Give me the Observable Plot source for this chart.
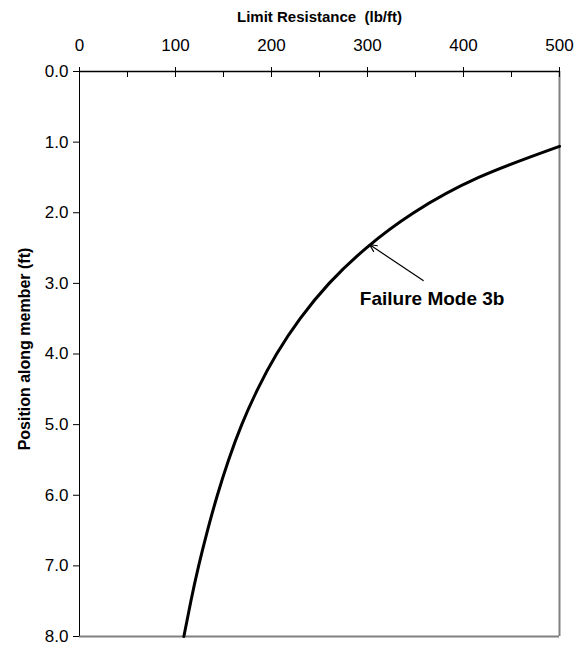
<!DOCTYPE html>
<html><head><meta charset="utf-8">
<script src="https://cdn.jsdelivr.net/npm/d3@7"></script>
<script src="https://cdn.jsdelivr.net/npm/@observablehq/plot@0.6"></script>
<style>
body{margin:0;background:#fff}
#chart svg{display:block;font-family:Arial,"Liberation Sans",sans-serif}
</style>
</head><body><div id="chart"></div>
<script>
// Curve: Limit resistance (lb/ft) vs position along member (ft)
const position   = [1.06, 1.5, 2.0, 2.5, 3.0, 3.5, 4.0, 4.5, 5.0, 5.5, 6.0, 6.5, 7.0, 7.5, 8.0];
const resistance = [500, 415.8, 348.1, 298.6, 260, 229.8, 205.3, 185.5, 169, 155.3, 143.6, 133.3, 124.1, 116, 108.7];

const xTicks = [0, 100, 200, 300, 400, 500];
const xMinorTicks = [50, 150, 250, 350, 450];
const yTicks = [0, 1, 2, 3, 4, 5, 6, 7, 8];

const xTitle = "Limit Resistance  (lb/ft)";
const yTitle = "Position along member (ft)";
const annotationText = "Failure Mode 3b";
const arrowFrom = {x: 358, y: 2.96};
const arrowTo = {x: 302, y: 2.45};
const labelAt = {x: 292, y: 3.22};

const curve = position.map((p, i) => ({position: p, resistance: resistance[i]}));

const chart = Plot.plot({
  width: 577,
  height: 645,
  marginLeft: 79,
  marginRight: 18,
  marginTop: 71,
  marginBottom: 9,
  style: {fontFamily: "Arial, 'Liberation Sans', sans-serif", background: "#fff", color: "#000"},
  x: {domain: [0, 500]},
  y: {domain: [0, 8], reverse: true},
  marks: [
    // frame: right & bottom gray
    Plot.ruleX([500], {stroke: "#808080", strokeWidth: 2}),
    Plot.ruleY([8], {stroke: "#808080", strokeWidth: 2}),
    // axis lines
    Plot.ruleX([0], {stroke: "#000", strokeWidth: 1}),
    Plot.ruleY([0], {stroke: "#000", strokeWidth: 1.5}),
    // x major ticks crossing the top axis
    Plot.axisX(xTicks, {anchor: "top", tickSize: 10, dy: 5, text: null, label: null, stroke: "#000"}),
    // x minor ticks inside
    Plot.axisX(xMinorTicks, {anchor: "top", tickSize: 5, dy: 5, text: null, label: null, stroke: "#000"}),
    // x tick labels
    Plot.axisX(xTicks, {anchor: "top", tickSize: 0, tickPadding: 21, fontSize: 17, label: null}),
    // y axis
    Plot.axisY(yTicks, {anchor: "left", tickSize: 6, tickPadding: 5, fontSize: 17, tickFormat: d3.format(".1f"), label: null}),
    // titles
    Plot.text([xTitle], {frameAnchor: "top", lineAnchor: "middle", dy: -54, fontSize: 15, fontWeight: "bold"}),
    Plot.text([yTitle], {frameAnchor: "left", rotate: -90, textAnchor: "middle", lineAnchor: "middle", dx: -55, dy: -5, fontSize: 16, fontWeight: "bold"}),
    // curve
    Plot.line(curve, {x: "resistance", y: "position", curve: "natural", stroke: "#000", strokeWidth: 3}),
    // annotation
    Plot.arrow([0], {x1: () => arrowFrom.x, y1: () => arrowFrom.y, x2: () => arrowTo.x, y2: () => arrowTo.y, stroke: "#000", strokeWidth: 1.2, headLength: 10, headAngle: 50}),
    Plot.text([annotationText], {x: () => labelAt.x, y: () => labelAt.y, textAnchor: "start", lineAnchor: "middle", fontSize: 19, fontWeight: "bold"})
  ]
});
document.getElementById("chart").appendChild(chart);
</script>
</body></html>
